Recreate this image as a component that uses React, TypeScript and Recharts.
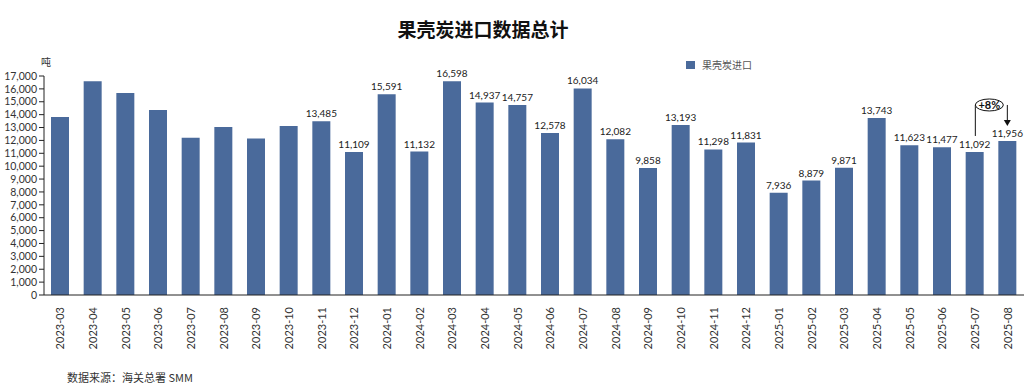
import React from "react";
import { BarChart, Bar, XAxis, YAxis, LabelList } from "recharts";

const months = [
  "2023-03", "2023-04", "2023-05", "2023-06", "2023-07", "2023-08", "2023-09", "2023-10",
  "2023-11", "2023-12", "2024-01", "2024-02", "2024-03", "2024-04", "2024-05", "2024-06",
  "2024-07", "2024-08", "2024-09", "2024-10", "2024-11", "2024-12", "2025-01", "2025-02",
  "2025-03", "2025-04", "2025-05", "2025-06", "2025-07", "2025-08",
];

const imports = [
  13820, 16600, 15680, 14360, 12210, 13040, 12140, 13120,
  13485, 11109, 15591, 11132, 16598, 14937, 14757, 12578,
  16034, 12082, 9858, 13193, 11298, 11831, 7936, 8879,
  9871, 13743, 11623, 11477, 11092, 11956,
];

const yTicks = [0, 1000, 2000, 3000, 4000, 5000, 6000, 7000, 8000, 9000, 10000, 11000, 12000, 13000, 14000, 15000, 16000, 17000];

const firstLabeled = "2023-11";
const changeText = "+8%";
const seriesName = "果壳炭进口";

const data = months.map((m, i) => ({ month: m, value: imports[i] }));
const firstLabeledIndex = months.indexOf(firstLabeled);

const FONT = "Lato, 'Noto Sans CJK SC', sans-serif";
const BAR_COLOR = "#4A6A9B";

const fmt = (v: number) => v.toLocaleString("en-US");

const renderLabel = (props: any) => {
  const { x, y, width, value, index } = props;
  if (index < firstLabeledIndex) return null;
  const cx = Number(x) + Number(width) / 2;
  const top = Number(y);
  const label = (
    <text
      x={cx}
      y={top - 4}
      textAnchor="middle"
      fontSize={10}
      fill="#222"
      fontFamily={FONT}
    >
      {fmt(value)}
    </text>
  );
  if (index !== months.length - 1) return label;
  const ey = top - 36;
  const ex = cx - 18;
  return (
    <g>
      {label}
      <line x1={ex - 14} y1={ey} x2={ex - 14} y2={ey + 31} stroke="#111" strokeWidth={1} />
      <line x1={cx} y1={ey} x2={cx} y2={ey + 16} stroke="#111" strokeWidth={1} />
      <path d={`M${cx - 3.5},${ey + 15} L${cx + 3.5},${ey + 15} L${cx},${ey + 21} Z`} fill="#111" />
      <ellipse cx={ex} cy={ey} rx={14} ry={6} fill="#fff" stroke="#111" strokeWidth={1} />
      <text
        x={ex}
        y={ey + 4}
        textAnchor="middle"
        fontSize={11}
        fontWeight="bold"
        fill="#111"
        fontFamily={FONT}
      >
        {changeText}
      </text>
    </g>
  );
};

const XTick = (props: any) => {
  const { x, y, payload } = props;
  return (
    <text
      transform={`translate(${x},${Number(y) + 4}) rotate(-90)`}
      textAnchor="end"
      dy="0.35em"
      fontSize={11}
      fill="#333"
      fontFamily={FONT}
    >
      {payload.value}
    </text>
  );
};

export default function App() {
  return (
    <div
      style={{
        position: "absolute",
        left: 0,
        top: 0,
        width: 1024,
        height: 392,
        background: "#fff",
        fontFamily: FONT,
      }}
    >
      <div
        style={{
          position: "absolute",
          left: 383,
          width: 200,
          top: 17,
          textAlign: "center",
          fontSize: 19,
          fontWeight: "bold",
          color: "#111",
          lineHeight: "24px",
          fontFamily: "'Noto Sans CJK SC', sans-serif",
        }}
      >
        果壳炭进口数据总计
      </div>
      <div
        style={{
          position: "absolute",
          left: 686,
          top: 61,
          width: 9,
          height: 8,
          background: BAR_COLOR,
        }}
      />
      <div
        style={{
          position: "absolute",
          left: 702,
          top: 57,
          fontSize: 10,
          lineHeight: "16px",
          color: "#555",
          fontFamily: "'Noto Sans CJK SC', sans-serif",
        }}
      >
        {seriesName}
      </div>
      <div
        style={{
          position: "absolute",
          left: 41,
          top: 55,
          fontSize: 10,
          lineHeight: "14px",
          color: "#333",
          fontFamily: "'Noto Sans CJK SC', sans-serif",
        }}
      >
        吨
      </div>
      <div
        style={{
          position: "absolute",
          left: 67,
          top: 369,
          fontSize: 11,
          lineHeight: "16px",
          color: "#333",
          fontFamily: "'Noto Sans CJK SC', sans-serif",
        }}
      >
        数据来源：海关总署 SMM
      </div>
      <div style={{ position: "absolute", left: 0, top: 0 }}>
        <BarChart
          width={1024}
          height={392}
          data={data}
          margin={{ top: 76, right: 0, bottom: 47, left: 0 }}
          barSize={18}
        >
          <XAxis
            dataKey="month"
            interval={0}
            tick={<XTick />}
            tickLine={false}
            axisLine={{ stroke: "#222" }}
            height={50}
          />
          <YAxis
            width={44}
            domain={[0, 17000]}
            ticks={yTicks}
            interval={0}
            tickFormatter={fmt}
            tick={{ fontSize: 10.5, fill: "#333", fontFamily: FONT }}
            tickLine={{ stroke: "#222" }}
            axisLine={{ stroke: "#222" }}
            tickSize={5}
          />
          <Bar dataKey="value" name={seriesName} fill={BAR_COLOR} isAnimationActive={false}>
            <LabelList dataKey="value" content={renderLabel} />
          </Bar>
        </BarChart>
      </div>
    </div>
  );
}
